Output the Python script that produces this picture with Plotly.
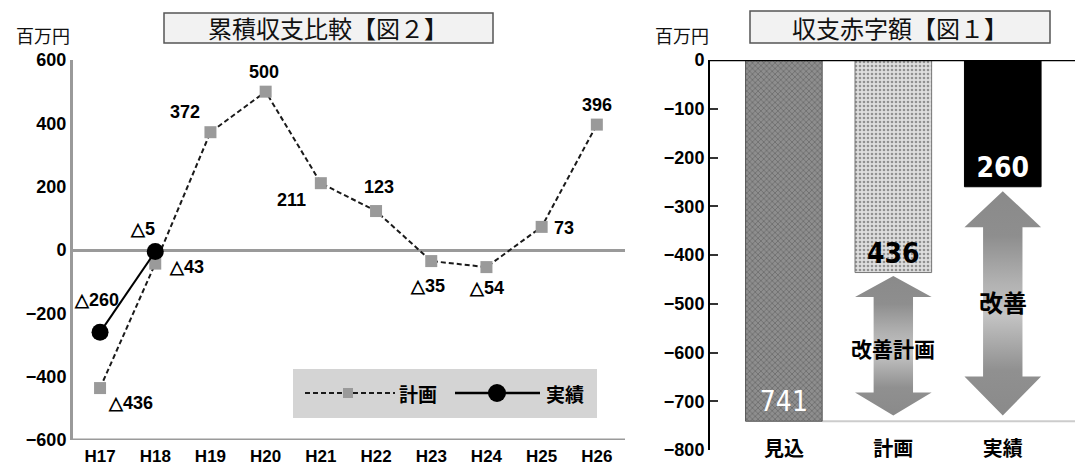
import plotly.graph_objects as go

# ---- data -------------------------------------------------------------
years = ["H17", "H18", "H19", "H20", "H21", "H22", "H23", "H24", "H25", "H26"]
plan_cumulative = [-436, -43, 372, 500, 211, 123, -35, -54, 73, 396]
actual_years = ["H17", "H18"]
actual_cumulative = [-260, -5]

deficit_labels = ["見込", "計画", "実績"]
deficit_values = [-741, -436, -260]

left_title = "累積収支比較【図２】"
right_title = "収支赤字額【図１】"
unit_label = "百万円"
plan_name = "計画"
actual_name = "実績"
arrow_texts = ["改善計画", "改善"]

# ---- styling ----------------------------------------------------------
W, H = 1078, 465
NUM_FONT = "Liberation Sans, Arial, sans-serif"
NARROW_FONT = "Liberation Sans Narrow, DejaVu Sans Condensed, Liberation Sans, sans-serif"
CJK_FONT = "Noto Sans CJK JP, Noto Sans, sans-serif"


def px(x):
    return x / W


def py(y):
    return 1 - y / H


def fmt(v):
    # negative amounts are written with a triangle mark
    return f"△{abs(v)}" if v < 0 else f"{v}"


# label offsets (pixels) for the cumulative chart
plan_offsets = [(30, -15), (31, -3), (-25, 20), (-2, 20), (-29, -17),
                (3, 24), (-4, -25), (0, -21), (22, -1), (0, 20)]
actual_offsets = [(-4, 32), (-13, 23)]

fig = go.Figure()

# ---- left: cumulative balance lines ----------------------------------
fig.add_trace(go.Scatter(
    x=years, y=plan_cumulative, mode="lines+markers",
    line=dict(color="#1a1a1a", width=2, dash="5px,3px"),
    marker=dict(symbol="square", size=12, color="#9a9a9a"),
    xaxis="x", yaxis="y", showlegend=False, cliponaxis=False,
))
fig.add_trace(go.Scatter(
    x=actual_years, y=actual_cumulative, mode="lines+markers",
    line=dict(color="#000000", width=2),
    marker=dict(symbol="circle", size=17, color="#000000"),
    xaxis="x", yaxis="y", showlegend=False, cliponaxis=False,
))

label_font = dict(family=NUM_FONT, size=18, color="#000", weight="bold")
annotations = []
for x, v, (dx, dy) in zip(years, plan_cumulative, plan_offsets):
    annotations.append(dict(x=x, y=v, xref="x", yref="y", text=fmt(v),
                            showarrow=False, xshift=dx, yshift=dy,
                            xanchor="center", yanchor="middle", font=label_font))
for x, v, (dx, dy) in zip(actual_years, actual_cumulative, actual_offsets):
    annotations.append(dict(x=x, y=v, xref="x", yref="y", text=fmt(v),
                            showarrow=False, xshift=dx, yshift=dy,
                            xanchor="center", yanchor="middle", font=label_font))

# ---- right: deficit bars ---------------------------------------------
bar_pos = list(range(len(deficit_labels)))
fig.add_trace(go.Bar(
    x=bar_pos, y=deficit_values, width=0.7,
    marker=dict(
        color=["#8e8e8e", "#dedede", "#000000"],
        line=dict(color=["#555555", "#777777", "#000000"], width=1),
        pattern=dict(shape=["x", ".", ""],
                     fgcolor=["#6a6a6a", "#ffffff", "#000000"],
                     size=4, solidity=0.35),
    ),
    text=[f"{abs(v)}" for v in deficit_values],
    textposition="inside", insidetextanchor="end", textangle=0,
    textfont=dict(family=NARROW_FONT, size=28,
                  color=["#ffffff", "#000000", "#ffffff"],
                  weight=["normal", "bold", "bold"]),
    xaxis="x2", yaxis="y2", showlegend=False, hoverinfo="skip",
))

# improvement arrows from each bar down to the projected deficit
shaft_hw, head_hw = 0.18, 0.35
arrow_specs = [
    # (bar index, top gap, top head height, bottom head height, text y)
    (1, 7, 43, 47, -590),
    (2, 9, 74, 80, -495),
]
base_value = deficit_values[0]
for (i, gap, top_h, bot_h, ty), label in zip(arrow_specs, arrow_texts):
    top = deficit_values[i] - gap
    bottom = base_value + 12
    c = bar_pos[i]
    xs = [c, c + head_hw, c + shaft_hw, c + shaft_hw, c + head_hw, c,
          c - head_hw, c - shaft_hw, c - shaft_hw, c - head_hw, c]
    ys = [top, top - top_h, top - top_h, bottom + bot_h, bottom + bot_h, bottom,
          bottom + bot_h, bottom + bot_h, top - top_h, top - top_h, top]
    fig.add_trace(go.Scatter(
        x=xs, y=ys, mode="lines", fill="toself",
        line=dict(width=0, color="rgba(0,0,0,0)"),
        fillgradient=dict(type="vertical", colorscale=[
            [0.0, "#8a8a8a"], [0.2, "#909090"], [0.45, "#c4c4c4"],
            [0.6, "#b0b0b0"], [0.8, "#8e8e8e"], [1.0, "#8a8a8a"]]),
        xaxis="x2", yaxis="y2", showlegend=False, hoverinfo="skip",
    ))
    annotations.append(dict(x=c, y=ty, xref="x2", yref="y2", text=label,
                            showarrow=False, xanchor="center", yanchor="middle",
                            font=dict(family=CJK_FONT, size=21 if len(label) > 2 else 24,
                                      color="#000", weight="bold")))

# ---- titles, units, legend -------------------------------------------
shapes = [
    dict(type="rect", xref="paper", yref="paper", x0=px(164), x1=px(493),
         y0=py(43), y1=py(13), fillcolor="#f2f2f2",
         line=dict(color="#555555", width=1.5), layer="below"),
    dict(type="rect", xref="paper", yref="paper", x0=px(750), x1=px(1050),
         y0=py(43), y1=py(11), fillcolor="#f2f2f2",
         line=dict(color="#555555", width=1.5), layer="below"),
    # legend panel
    dict(type="rect", xref="paper", yref="paper", x0=px(293), x1=px(597),
         y0=py(418), y1=py(369), fillcolor="#d4d4d4", line=dict(width=0),
         layer="below"),
    dict(type="line", xref="paper", yref="paper", x0=px(305), x1=px(395),
         y0=py(393), y1=py(393), line=dict(color="#1a1a1a", width=2, dash="5px,3px")),
    dict(type="rect", xref="paper", yref="paper", x0=px(343), x1=px(353),
         y0=py(398), y1=py(388), fillcolor="#9a9a9a", line=dict(width=0)),
    dict(type="line", xref="paper", yref="paper", x0=px(455), x1=px(540),
         y0=py(393), y1=py(393), line=dict(color="#000", width=2.5)),
    dict(type="circle", xref="paper", yref="paper", x0=px(488), x1=px(506),
         y0=py(402), y1=py(384), fillcolor="#000", line=dict(width=0)),
    # bottom edge of the cumulative chart
    dict(type="line", xref="x domain", yref="y", x0=0, x1=1, y0=-600, y1=-600,
         line=dict(color="#9a9a9a", width=3)),
    # zero line and base line of the deficit chart
    dict(type="line", xref="x2 domain", yref="y2", x0=0, x1=1, y0=0, y1=0,
         line=dict(color="#000", width=2.5)),
    dict(type="line", xref="x2", yref="y2", x0=bar_pos[0] + 0.35, x1=2.66,
         y0=base_value, y1=base_value, line=dict(color="#cccccc", width=2),
         layer="below"),
]


def paper_text(x, y, text, size, bold=False, anchor="center", color="#111"):
    return dict(x=px(x), y=py(y), xref="paper", yref="paper", text=text,
                showarrow=False, xanchor=anchor, yanchor="middle",
                font=dict(family=CJK_FONT, size=size, color=color,
                          weight="bold" if bold else "normal"))


annotations += [
    paper_text(328, 28, left_title, 24),
    paper_text(900, 27, right_title, 24),
    paper_text(43, 35, unit_label, 18),
    paper_text(682, 35, unit_label, 18),
    paper_text(397, 393, plan_name, 19, bold=True, anchor="left", color="#000"),
    paper_text(544, 393, actual_name, 19, bold=True, anchor="left", color="#000"),
]

tick_font = dict(family=NUM_FONT, size=18, color="#000", weight="bold")

fig.update_layout(
    width=W, height=H,
    margin=dict(l=0, r=0, t=0, b=0, autoexpand=False),
    paper_bgcolor="#ffffff", plot_bgcolor="rgba(0,0,0,0)",
    showlegend=False,
    shapes=shapes, annotations=annotations,
    xaxis=dict(domain=[px(73), px(625)], type="category",
               range=[-0.49, 9.51], showgrid=False, zeroline=False,
               showline=False, ticks="",
               tickfont=dict(family=NUM_FONT, size=17, color="#000", weight="bold"),
               anchor="free", position=py(444), automargin=False),
    yaxis=dict(domain=[py(440), py(60)], range=[-600, 600],
               tickvals=[-600, -400, -200, 0, 200, 400, 600],
               showgrid=False, zeroline=True, zerolinecolor="#9a9a9a",
               zerolinewidth=3, showline=True, linecolor="#9a9a9a",
               linewidth=3, ticks="", tickfont=tick_font, anchor="x",
               automargin=False),
    xaxis2=dict(domain=[px(710), px(1075)], range=[-0.675, 2.66],
                tickvals=bar_pos, ticktext=deficit_labels,
                showgrid=False, zeroline=False, showline=False, ticks="",
                tickfont=dict(family=CJK_FONT, size=20, color="#000",
                              weight="bold"),
                anchor="free", position=py(435), automargin=False),
    yaxis2=dict(domain=[py(450), py(60)], range=[-800, 0],
                tickvals=list(range(-800, 1, 100)),
                showgrid=False, zeroline=False, showline=True,
                linecolor="#000", linewidth=2, ticks="inside", ticklen=8,
                tickcolor="#333", tickwidth=1.5,
                tickfont=tick_font, anchor="x2", automargin=False),
)

fig.write_html("out.html")
